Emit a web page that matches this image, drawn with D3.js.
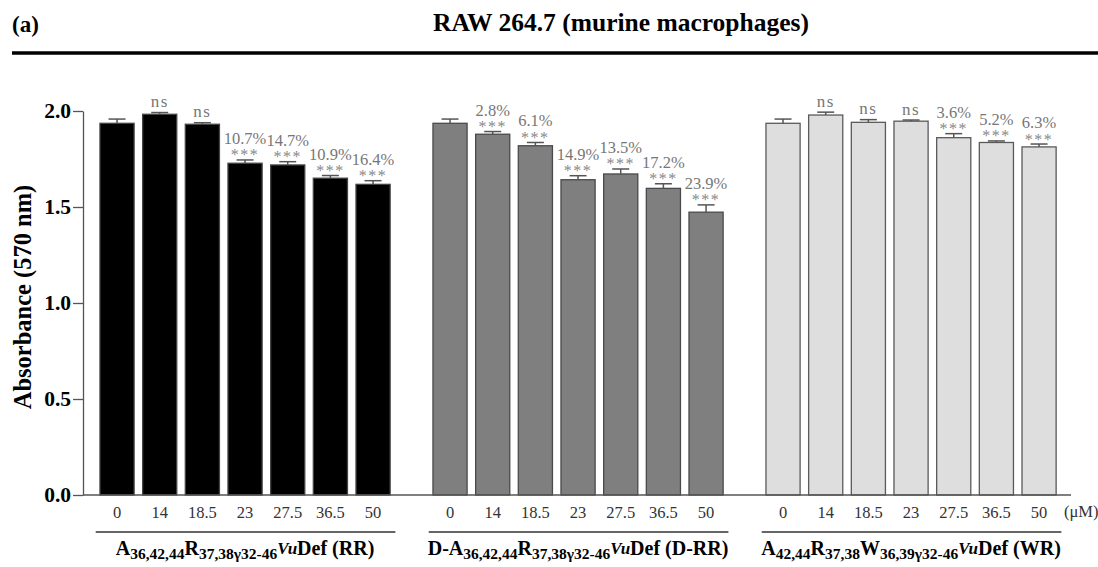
<!DOCTYPE html>
<html>
<head>
<meta charset="utf-8">
<script src="https://cdn.jsdelivr.net/npm/d3@7"></script>
<style>
  body { margin: 0; background: #fff; }
  svg text { font-family: "Liberation Serif", "Times New Roman", serif; }
</style>
</head>
<body>
<script>
// Data
let groups = ["RR", "D-RR", "WR"];
let concentrations = ["0", "14", "18.5", "23", "27.5", "36.5", "50"];

let rrMeans = [1.936, 1.983, 1.931, 1.728, 1.719, 1.650, 1.618];
let rrErrors = [0.022, 0.009, 0.008, 0.017, 0.017, 0.014, 0.019];
let drrMeans = [1.936, 1.879, 1.819, 1.642, 1.672, 1.597, 1.473];
let drrErrors = [0.022, 0.014, 0.017, 0.021, 0.026, 0.024, 0.038];
let wrMeans = [1.936, 1.979, 1.941, 1.947, 1.861, 1.836, 1.813];
let wrErrors = [0.022, 0.015, 0.014, 0.006, 0.021, 0.008, 0.015];

// "ns" or reduction percentage (the percentages go with ***)
let rrNotes = ["", "ns", "ns", "10.7%", "14.7%", "10.9%", "16.4%"];
let drrNotes = ["", "2.8%", "6.1%", "14.9%", "13.5%", "17.2%", "23.9%"];
let wrNotes = ["", "ns", "ns", "ns", "3.6%", "5.2%", "6.3%"];

let yTicks = [0, 0.5, 1.0, 1.5, 2.0];

// Group names with sub/superscripts: [text, kind]
let rrLabel = [["A", "n"], ["36,42,44", "sub"], ["R", "n"], ["37,38", "sub"], ["\u03B3", "sub"], ["32-46", "sub"], ["Vu", "sup"], ["Def (RR)", "n"]];
let drrLabel = [["D-A", "n"], ["36,42,44", "sub"], ["R", "n"], ["37,38", "sub"], ["\u03B3", "sub"], ["32-46", "sub"], ["Vu", "sup"], ["Def (D-RR)", "n"]];
let wrLabel = [["A", "n"], ["42,44", "sub"], ["R", "n"], ["37,38", "sub"], ["W", "n"], ["36,39", "sub"], ["\u03B3", "sub"], ["32-46", "sub"], ["Vu", "sup"], ["Def (WR)", "n"]];

let w = 1098;
let h = 567;

let series = [
  { group: "RR", means: rrMeans, errors: rrErrors, notes: rrNotes, label: rrLabel, fill: "#000000", stroke: "#444444" },
  { group: "D-RR", means: drrMeans, errors: drrErrors, notes: drrNotes, label: drrLabel, fill: "#7f7f7f", stroke: "#4a4a4a" },
  { group: "WR", means: wrMeans, errors: wrErrors, notes: wrNotes, label: wrLabel, fill: "#dedede", stroke: "#5a5a5a" }
];

let svg = d3.select("body").append("svg")
  .attr("width", w)
  .attr("height", h);

// Header
svg.append("text")
  .attr("x", 12).attr("y", 32)
  .attr("font-size", 23).attr("font-weight", "bold")
  .text("(a)");

svg.append("text")
  .attr("x", 621).attr("y", 31)
  .attr("text-anchor", "middle")
  .attr("font-size", 25.5).attr("font-weight", "bold")
  .text("RAW 264.7 (murine macrophages)");

svg.append("line")
  .attr("x1", 12).attr("x2", w)
  .attr("y1", 53).attr("y2", 53)
  .attr("stroke", "#000").attr("stroke-width", 3.5);

// Scales
let y = d3.scaleLinear().domain([0, 2]).range([495, 111]);

let x0 = d3.scaleBand()
  .domain(groups)
  .range([95.7, 1060.4])
  .paddingInner(0.103);

let x1 = d3.scaleBand()
  .domain(concentrations)
  .range([0, x0.bandwidth()])
  .paddingInner(0.2)
  .paddingOuter(0.1);

// Y axis
let yAxis = svg.append("g")
  .attr("transform", "translate(83,0)")
  .call(d3.axisLeft(y).tickValues(yTicks).tickFormat(d3.format(".1f")).tickSize(10).tickSizeOuter(0).tickPadding(2));
yAxis.attr("font-family", null);
yAxis.select(".domain").attr("stroke", "#555").attr("stroke-width", 1.3);
yAxis.selectAll(".tick line").attr("stroke", "#555").attr("stroke-width", 1.3);
yAxis.selectAll(".tick text")
  .attr("font-size", 21.5).attr("font-weight", "bold").attr("fill", "#000");

svg.append("text")
  .attr("transform", "translate(31,297) rotate(-90)")
  .attr("text-anchor", "middle")
  .attr("font-size", 24.5).attr("font-weight", "bold")
  .text("Absorbance (570 nm)");

// Bars per group
series.forEach(function (s) {
  let g = svg.append("g").attr("transform", "translate(" + x0(s.group) + ",0)");

  g.selectAll("rect").data(s.means).enter().append("rect")
    .attr("x", function (d, i) { return x1(concentrations[i]); })
    .attr("y", function (d) { return y(d); })
    .attr("width", x1.bandwidth())
    .attr("height", function (d) { return y(0) - y(d); })
    .attr("fill", s.fill)
    .attr("stroke", s.stroke)
    .attr("stroke-width", 1.3);

  // error bars (upper half)
  let cx = function (i) { return x1(concentrations[i]) + x1.bandwidth() / 2; };
  g.selectAll(".stem").data(s.means).enter().append("line")
    .attr("x1", function (d, i) { return cx(i); })
    .attr("x2", function (d, i) { return cx(i); })
    .attr("y1", function (d) { return y(d); })
    .attr("y2", function (d, i) { return y(d + s.errors[i]); })
    .attr("stroke", "#555").attr("stroke-width", 1.5);
  g.selectAll(".cap").data(s.means).enter().append("line")
    .attr("x1", function (d, i) { return cx(i) - 8.5; })
    .attr("x2", function (d, i) { return cx(i) + 8.5; })
    .attr("y1", function (d, i) { return y(d + s.errors[i]); })
    .attr("y2", function (d, i) { return y(d + s.errors[i]); })
    .attr("stroke", "#555").attr("stroke-width", 1.5);

  // annotations
  s.notes.forEach(function (note, i) {
    if (note === "") return;
    let top = y(s.means[i] + s.errors[i]);
    if (note === "ns") {
      g.append("text")
        .attr("x", cx(i)).attr("y", top - 5.5)
        .attr("text-anchor", "middle")
        .attr("font-size", 17).attr("letter-spacing", 1.5)
        .attr("fill", "#777")
        .text("ns");
    } else {
      g.append("text")
        .attr("x", cx(i)).attr("y", top + 0.5)
        .attr("text-anchor", "middle")
        .attr("font-size", 16).attr("letter-spacing", 1.5)
        .attr("fill", "#888")
        .text("***");
      g.append("text")
        .attr("x", cx(i)).attr("y", top - 16)
        .attr("text-anchor", "middle")
        .attr("font-size", 16.5)
        .attr("fill", "#777")
        .text(note);
    }
  });

  // concentration ticks
  let xa = g.append("g")
    .attr("transform", "translate(0,495)")
    .call(d3.axisBottom(x1).tickSize(0).tickPadding(11));
  xa.attr("font-family", null);
  xa.select(".domain").remove();
  xa.selectAll(".tick text")
    .attr("font-size", 16.5).attr("fill", "#333");

  // group underline
  g.append("line")
    .attr("x1", 0).attr("x2", x0.bandwidth() + 1)
    .attr("y1", 532).attr("y2", 532)
    .attr("stroke", "#333").attr("stroke-width", 1.3);

  // group label with sub/superscripts
  let t = g.append("text")
    .attr("x", x0.bandwidth() / 2).attr("y", 555)
    .attr("text-anchor", "middle")
    .attr("font-weight", "bold")
    .attr("font-size", 20);
  let shift = 0;
  s.label.forEach(function (p) {
    let target = p[1] === "sub" ? 4 : (p[1] === "sup" ? -1.5 : 0);
    let ts = t.append("tspan").attr("dy", target - shift).text(p[0]);
    if (p[1] === "sub") ts.attr("font-size", 15.5);
    if (p[1] === "sup") ts.attr("font-size", 17).attr("font-style", "italic");
    shift = target;
  });
});

// X axis baseline
svg.append("line")
  .attr("x1", 83).attr("x2", 1071)
  .attr("y1", 495).attr("y2", 495)
  .attr("stroke", "#555").attr("stroke-width", 1.3);

svg.append("text")
  .attr("x", 1064).attr("y", 517)
  .attr("font-size", 16.5).attr("fill", "#333")
  .text("(\u03BCM)");
</script>
</body>
</html>
